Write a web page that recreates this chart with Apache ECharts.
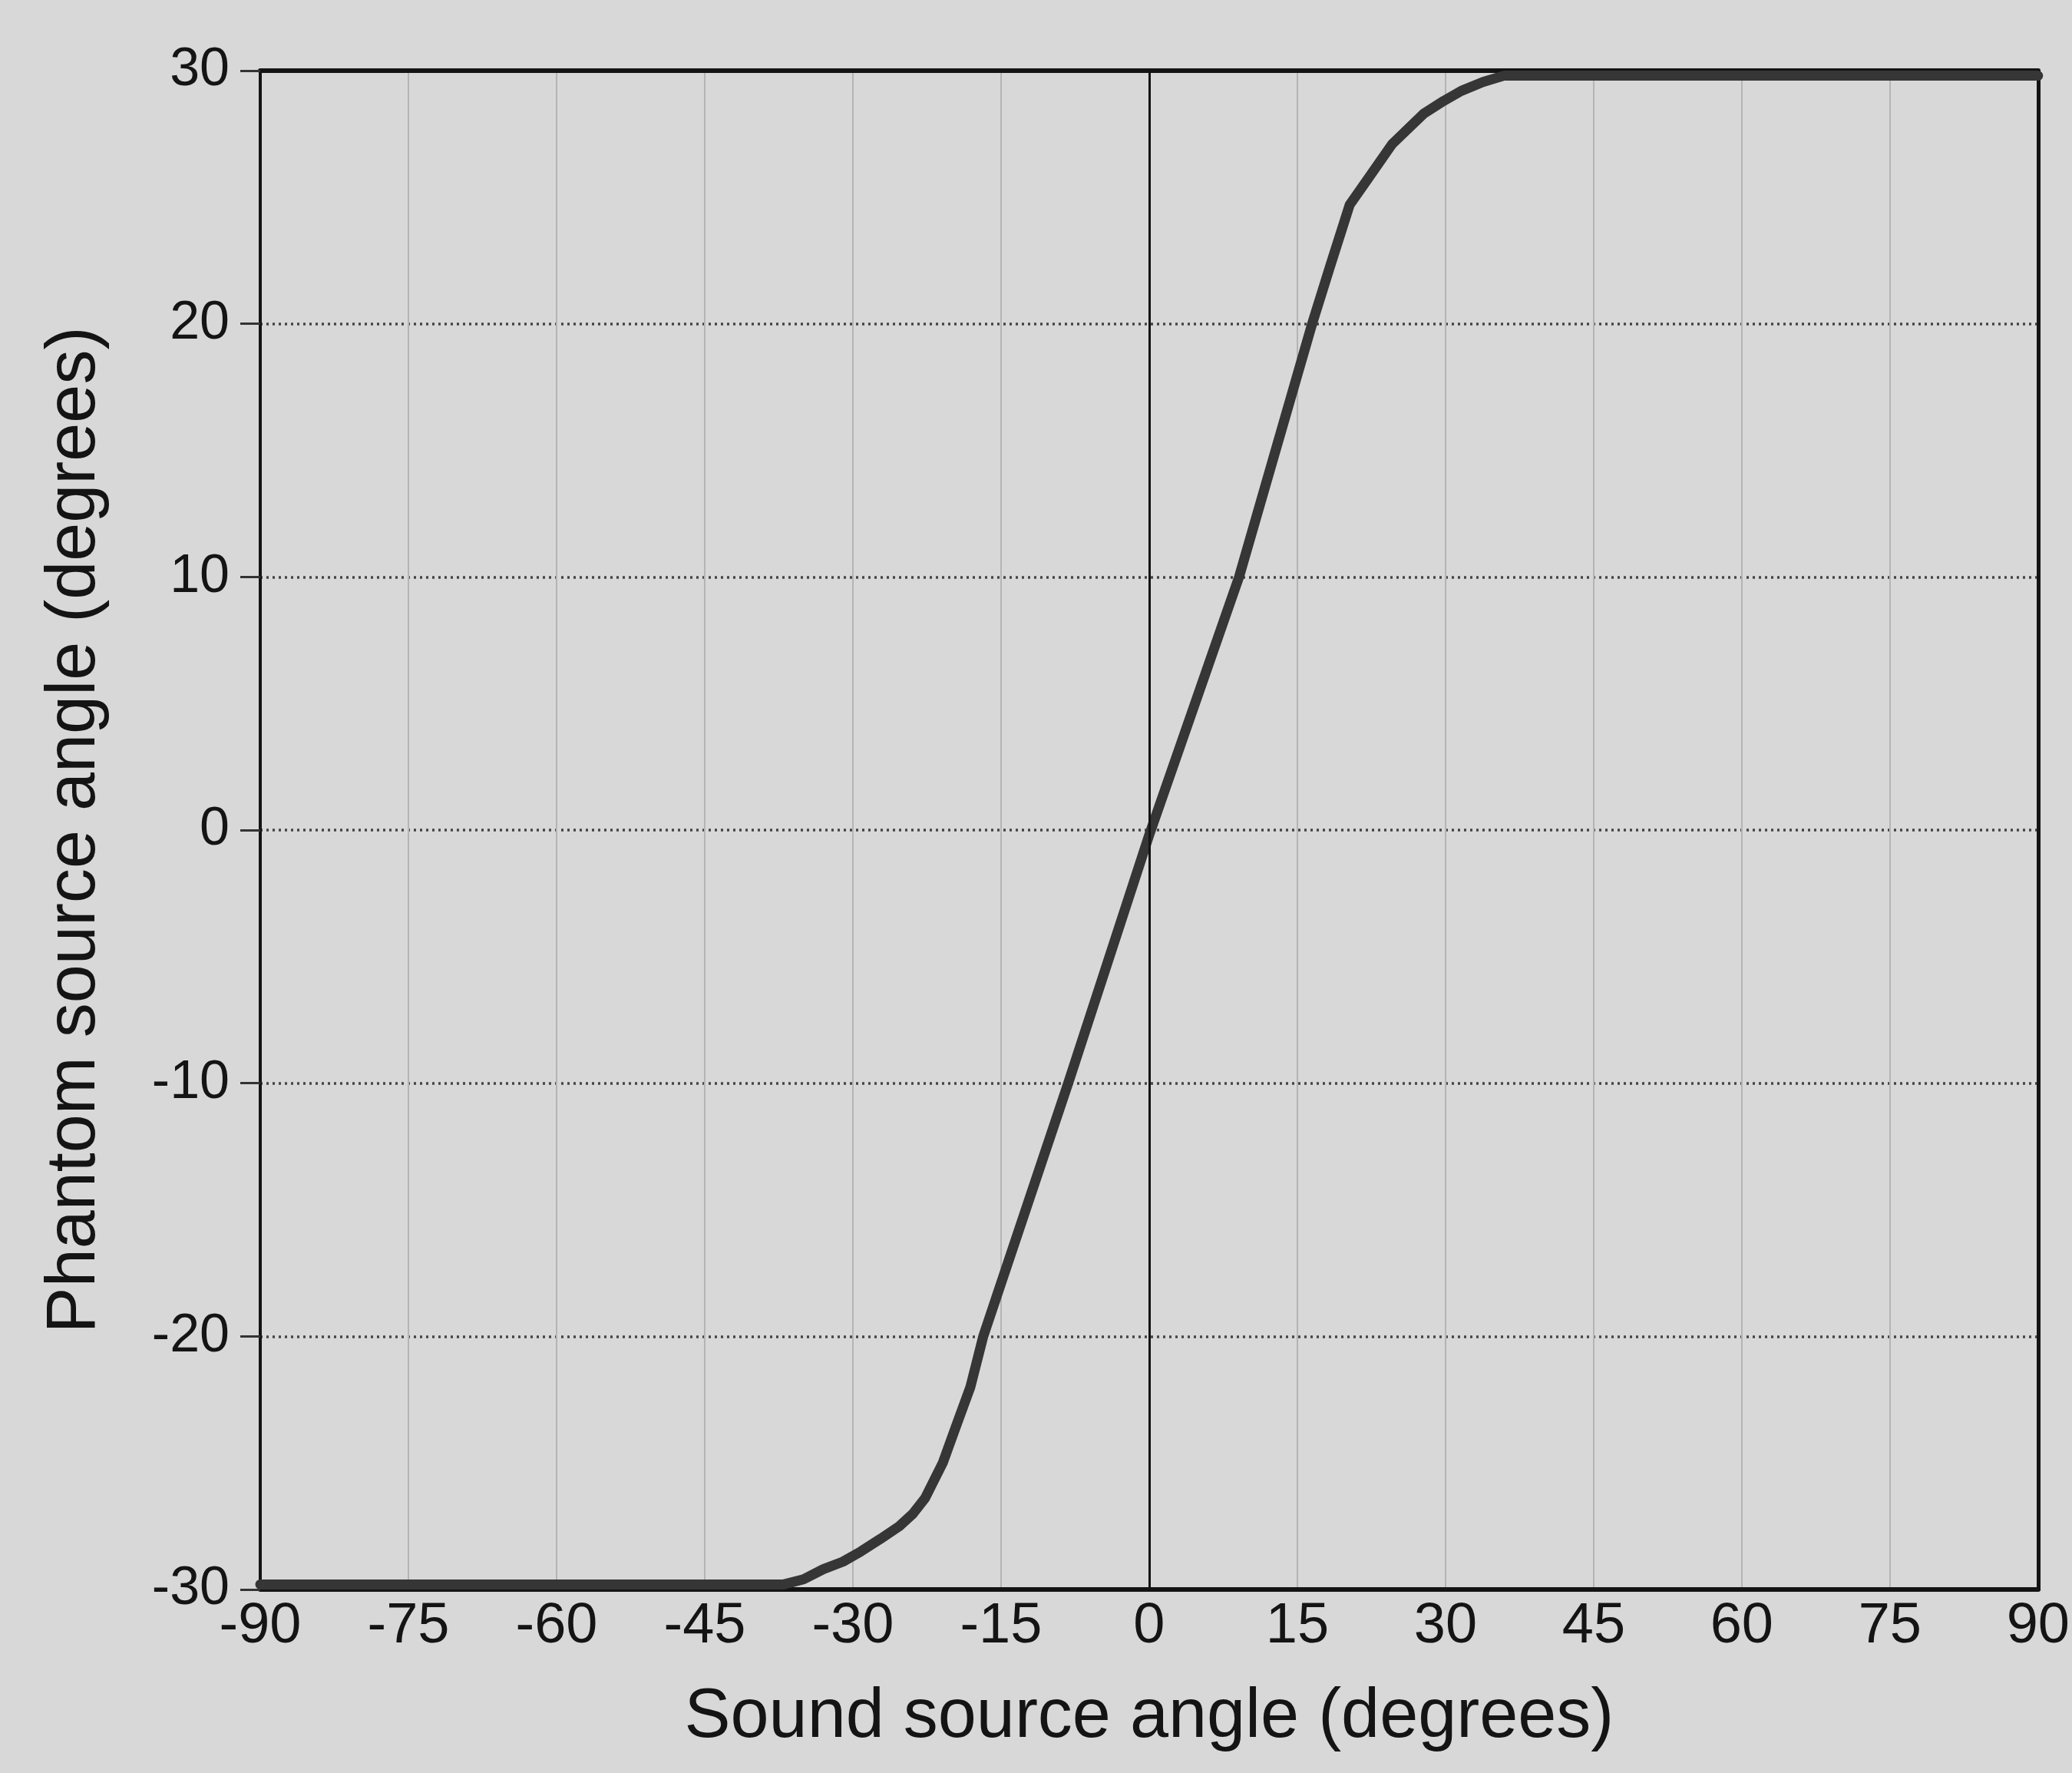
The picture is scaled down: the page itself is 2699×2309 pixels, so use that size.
<!DOCTYPE html>
<html>
<head>
<meta charset="utf-8">
<title>Phantom source angle</title>
<script src="https://cdn.jsdelivr.net/npm/echarts@6/dist/echarts.min.js"></script>
<style>
  html, body { margin: 0; padding: 0; background: #d8d8d8; }
  #chart { width: 2699px; height: 2309px; }
</style>
</head>
<body>
<div id="chart"></div>
<script>
const soundAngle = [-90, -37, -35, -33, -31, -29.2, -27.2, -25.3, -23.9, -22.7, -20.9, -19.6, -18.1, -16.8, -8.2, 0, 9.1, 16.5, 18.3, 20.3, 22.1, 24.6, 27.8, 29.8, 31.6, 33.8, 35.9, 90]
const phantomAngle = [-29.8, -29.8, -29.6, -29.2, -28.9, -28.5, -28.0, -27.5, -27.0, -26.4, -25, -23.6, -22, -20, -10, -0.2, 10, 20, 22.25, 24.7, 25.7, 27.1, 28.3, 28.8, 29.2, 29.55, 29.8, 29.8]
const xTicks = [-90, 90, 15] // min, max, step
const yTicks = [-30, 30, 10]

const ink = '#141414'
const font = 'Liberation Sans'

const chart = echarts.init(document.getElementById('chart'))

// plain frame axes for the top and right edges of the box
const frameAxis = (width) => ({
  type: 'value',
  axisLine: { onZero: false, lineStyle: { color: ink, width } },
  axisTick: { show: false },
  axisLabel: { show: false },
  splitLine: { show: false },
})

chart.setOption({
  backgroundColor: '#d8d8d8',
  animation: false,
  grid: {
    left: 339,
    right: 28,
    top: 92,
    bottom: 239,
  },
  xAxis: [
    {
      type: 'value',
      min: xTicks[0],
      max: xTicks[1],
      interval: xTicks[2],
      name: 'Sound source angle (degrees)',
      nameLocation: 'middle',
      nameGap: 122,
      nameTextStyle: { fontFamily: font, fontSize: 90, color: ink },
      axisLine: { onZero: false, lineStyle: { color: ink, width: 6 } },
      axisTick: { show: false },
      axisLabel: { fontFamily: font, fontSize: 74, color: ink, margin: 12 },
      splitLine: { lineStyle: { color: '#b4b4b4', width: 2 } },
    },
    { ...frameAxis(6), position: 'top', min: xTicks[0], max: xTicks[1] },
  ],
  yAxis: [
    {
      type: 'value',
      min: yTicks[0],
      max: yTicks[1],
      interval: yTicks[2],
      name: 'Phantom source angle (degrees)',
      nameLocation: 'middle',
      nameGap: 196,
      nameTextStyle: { fontFamily: font, fontSize: 90, color: ink },
      axisLine: { onZero: false, lineStyle: { color: ink, width: 4 } },
      axisTick: { show: true, length: 26, lineStyle: { color: '#333', width: 3 } },
      axisLabel: { fontFamily: font, fontSize: 70, color: ink, margin: 40 },
      splitLine: { lineStyle: { color: '#444', width: 3.5, type: [3, 5] } },
    },
    { ...frameAxis(5), position: 'right', min: yTicks[0], max: yTicks[1] },
  ],
  series: [
    {
      type: 'line',
      data: soundAngle.map((x, i) => [x, phantomAngle[i]]),
      showSymbol: false,
      smooth: false,
      lineStyle: { color: '#363636', width: 13, cap: 'round', join: 'round' },
      markLine: {
        silent: true,
        symbol: 'none',
        label: { show: false },
        lineStyle: { color: ink, width: 3, type: 'solid' },
        data: [{ xAxis: 0 }],
      },
      z: 3,
    },
  ],
})
</script>
</body>
</html>
